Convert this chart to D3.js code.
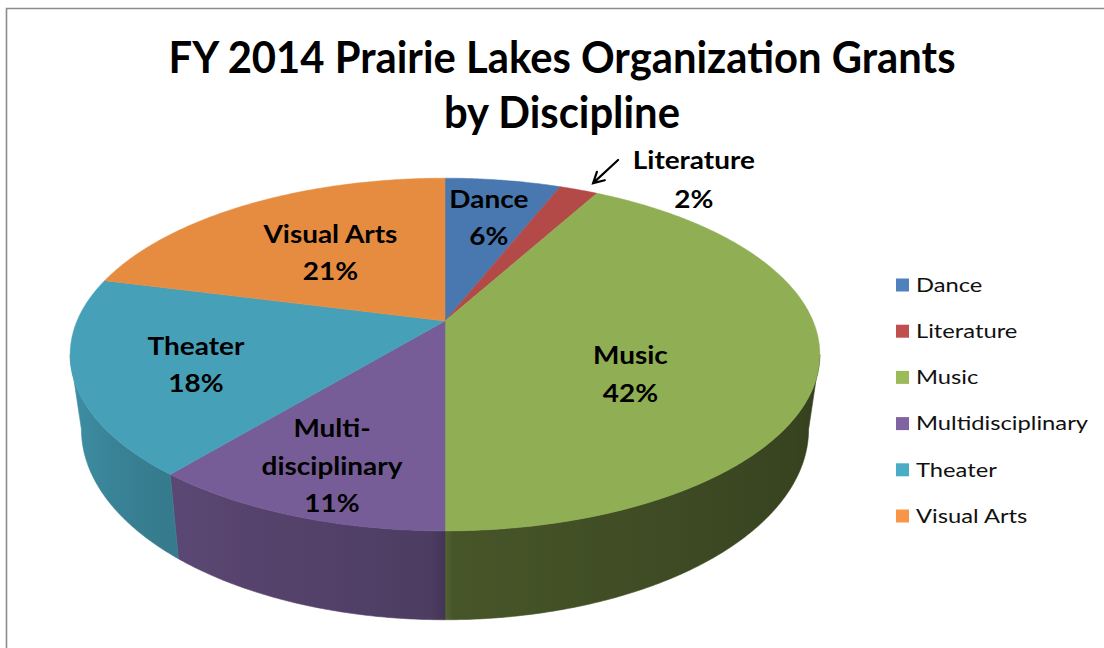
<!DOCTYPE html>
<html>
<head>
<meta charset="utf-8">
<script src="https://cdn.jsdelivr.net/npm/d3@7"></script>
<style>
  body { margin: 0; background: #ffffff; }
  svg { display: block; }
</style>
</head>
<body>
<svg id="chart" width="1104" height="648"></svg>
<script>
// Grant shares by discipline (percent of total)
const categories = ["Dance", "Literature", "Music", "Multidisciplinary", "Theater", "Visual Arts"];
const shares = [6, 2, 42, 11, 18, 21];
const sliceColors = ["#4F81BD", "#C0504D", "#9BBB59", "#8064A2", "#4BACC6", "#F79646"];
const titleLines = ["FY 2014 Prairie Lakes Organization Grants", "by Discipline"];
// How each category name wraps inside its slice label
const labelNameLines = {
  "Multidisciplinary": ["Multi-", "disciplinary"]
};

const svg = d3.select("#chart");
const defs = svg.append("defs");
const FONT = "Lato, 'Open Sans', 'DejaVu Sans', sans-serif";

// Chart frame (top and left edges visible)
svg.append("path")
  .attr("d", "M6.5,648 V8.5 H1104")
  .attr("fill", "none")
  .attr("stroke", "#8c8c8c")
  .attr("stroke-width", 1.6);

// ---- 3D perspective projection of the pie disc ----
// a: angle clockwise from 12 o'clock, r: radius fraction, level 0 = top face, 1 = bottom face
const P = { cx: 445, cy: 321, A: 368, B: 170, persp: -0.19, depth: 72, shrink: 0.97 };
function project(a, r, level) {
  const u = r * Math.sin(a), v = -r * Math.cos(a);
  const den = 1 + P.persp * v;
  if (level === 1) {
    return [P.cx + P.A * P.shrink * u / den, P.cy + (P.B * v + P.depth) / den];
  }
  return [P.cx + P.A * u / den, P.cy + P.B * v / den];
}

const pie = d3.pie().sort(null).value(d => d)(shares);
const TAU = Math.PI * 2;
const DEG = Math.PI / 180;

// silhouette angles of the disc (extreme right / left of the top ellipse)
let aRight = 0, aLeft = 0, maxX = -Infinity, minX = Infinity;
for (let i = 0; i < 3600; i++) {
  const a = i / 3600 * TAU;
  const [x] = project(a, 1, 0);
  if (x > maxX) { maxX = x; aRight = a; }
  if (x < minX) { minX = x; aLeft = a; }
}

// light falling on the rim, by angle (degrees)
const rimLight = d3.scaleLinear()
  .domain([aRight / DEG, 150, 179.9, 180.1, 222, aLeft / DEG])
  .range([0.33, 0.40, 0.46, 0.60, 0.72, 0.86])
  .clamp(true);

function shade(color, k) {
  const c = d3.rgb(color);
  return d3.rgb(c.r * k, c.g * k, c.b * k).formatHex();
}

const gRim = svg.append("g");
const gTop = svg.append("g");
const step = 0.5 * DEG;
const line = pts => "M" + pts.map(p => p[0].toFixed(2) + "," + p[1].toFixed(2)).join("L");

pie.forEach((s, i) => {
  // rim (side wall) on the visible front half, shaded with a horizontal gradient
  const a0 = Math.max(s.startAngle, aRight), a1 = Math.min(s.endAngle, aLeft);
  if (a1 > a0) {
    const n = Math.max(2, Math.ceil((a1 - a0) / step));
    const angs = d3.range(n + 1).map(k => a0 + (a1 - a0) * k / n);
    const top = angs.map(a => project(a, 1, 0));
    const bot = angs.map(a => project(a, 1, 1)).reverse();
    const xs = top.map(p => p[0]);
    const x0 = d3.min(xs), x1 = d3.max(xs);
    const gid = "rim" + i;
    const grad = defs.append("linearGradient").attr("id", gid)
      .attr("gradientUnits", "userSpaceOnUse")
      .attr("x1", x0).attr("x2", x1).attr("y1", 0).attr("y2", 0);
    angs.filter((a, k) => k % 4 === 0 || k === n).forEach(a => {
      const x = project(a, 1, 0)[0];
      grad.append("stop")
        .attr("offset", x1 > x0 ? (x - x0) / (x1 - x0) : 0)
        .attr("stop-color", shade(sliceColors[i], rimLight(a / DEG)));
    });
    // stops must be ascending in offset
    const stops = grad.selectAll("stop").nodes().sort((p, q) => +p.getAttribute("offset") - +q.getAttribute("offset"));
    stops.forEach(nd => grad.node().appendChild(nd));
    gRim.append("path")
      .attr("d", line(top.concat(bot)) + "Z")
      .attr("fill", `url(#${gid})`)
      .attr("stroke", `url(#${gid})`)
      .attr("stroke-width", 0.6);
  }
  // top face
  const m = Math.max(2, Math.ceil((s.endAngle - s.startAngle) / step));
  const arc = d3.range(m + 1).map(k => project(s.startAngle + (s.endAngle - s.startAngle) * k / m, 1, 0));
  const c0 = project(0, 0, 0);
  const topCol = shade(sliceColors[i], 0.93);
  gTop.append("path")
    .attr("d", line([c0].concat(arc)) + "Z")
    .attr("fill", topCol)
    .attr("stroke", topCol)
    .attr("stroke-width", 0.5);
});

// ---- text helpers ----
function naturalWidth(text, weight, size) {
  const t = svg.append("text").attr("font-family", FONT).attr("font-weight", weight)
    .attr("font-size", size).text(text);
  const w = t.node().getComputedTextLength();
  t.remove();
  return w;
}
// draws text at a font size, condensed horizontally by `squeeze`
function condensedText(parent, text, x, y, size, weight, squeeze, anchor) {
  const w = naturalWidth(text, weight, size) * squeeze;
  return parent.append("text")
    .attr("x", x).attr("y", y)
    .attr("text-anchor", anchor || "middle")
    .attr("font-family", FONT)
    .attr("font-weight", weight)
    .attr("font-size", size)
    .attr("textLength", w)
    .attr("lengthAdjust", "spacingAndGlyphs")
    .attr("fill", "#000")
    .text(text);
}

// Title
const titleSize = 44;
const titleSqueeze = 787 / naturalWidth(titleLines[0], 700, titleSize);
const gTitle = svg.append("g");
titleLines.forEach((t, i) => condensedText(gTitle, t, 562, 73 + i * 55, titleSize, 700, titleSqueeze));

// ---- slice labels ----
// label anchor inside the disc: radius fraction and angle nudge (degrees)
const labelPlace = {
  "Dance": { r: 0.70, da: 0.3 },
  "Literature": { r: 1.27, da: 14 },
  "Music": { r: 0.56, da: 17.5 },
  "Multidisciplinary": { r: 0.78, da: 0 },
  "Theater": { r: 0.69, da: -2.7 },
  "Visual Arts": { r: 0.55, da: 0 }
};
const labelSize = 25.5;
const labelSqueeze = 134 / naturalWidth("Visual Arts", 700, labelSize);
const gLab = svg.append("g");
pie.forEach((s, i) => {
  const name = categories[i];
  const lines = (labelNameLines[name] || [name]).concat([shares[i] + "%"]);
  const mid = (s.startAngle + s.endAngle) / 2;
  const lp = labelPlace[name];
  const [x, y] = project(mid + lp.da * DEG, lp.r, 0);
  const gap = name === "Literature" ? 39 : 37.5;
  lines.forEach((t, k) => {
    condensedText(gLab, t, x, y + (k - (lines.length - 1) / 2) * gap + labelSize * 0.35,
      labelSize, 700, labelSqueeze);
  });

  if (name === "Literature") {
    // pointer from the outside label to the thin slice
    const am = mid + 1.2 * DEG;
    const tail = project(am, 1.29, 0), tip = project(am, 1.07, 0);
    const ang = Math.atan2(tip[1] - tail[1], tip[0] - tail[0]);
    const hl = 12, hw = 0.5;
    const h1 = [tip[0] - hl * Math.cos(ang - hw), tip[1] - hl * Math.sin(ang - hw)];
    const h2 = [tip[0] - hl * Math.cos(ang + hw), tip[1] - hl * Math.sin(ang + hw)];
    gLab.append("path")
      .attr("d", `M${tail}L${tip}M${h1}L${tip}L${h2}`)
      .attr("fill", "none")
      .attr("stroke", "#000")
      .attr("stroke-width", 2.2)
      .attr("stroke-linecap", "round");
  }
});

// ---- legend ----
const legendSize = 19.5;
const legendSqueeze = 172 / naturalWidth("Multidisciplinary", 400, legendSize);
const legendY = d3.scalePoint().domain(categories).range([285, 516]);
const gLeg = svg.append("g");
categories.forEach((c, i) => {
  const y = legendY(c);
  gLeg.append("rect")
    .attr("x", 896).attr("y", y - 6.5)
    .attr("width", 13).attr("height", 13)
    .attr("fill", sliceColors[i]);
  condensedText(gLeg, c, 916, y + legendSize * 0.35, legendSize, 400, legendSqueeze, "start")
    .attr("fill", "#111");
});
</script>
</body>
</html>
